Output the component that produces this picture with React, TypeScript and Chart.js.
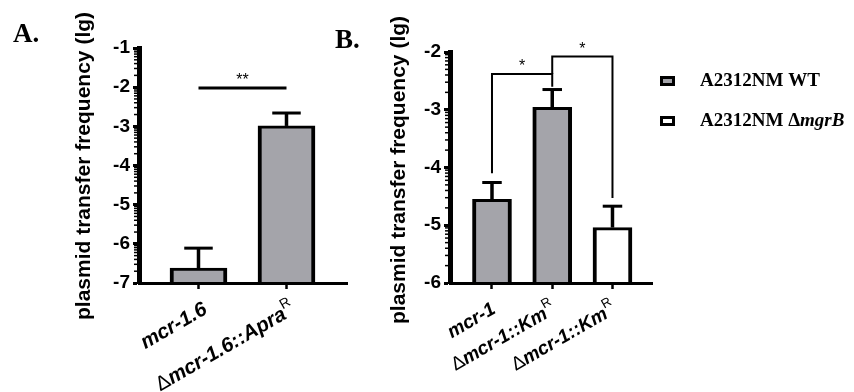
import React, { useEffect, useRef } from 'react';
import { Chart, registerables } from 'chart.js';

Chart.register(...registerables);

type Seg = { text: string; style: 'n' | 'b' | 'bi' | 'sup' };

const SANS = 'Arial, "Liberation Sans", Helvetica, sans-serif';
const SERIF = '"Times New Roman", "Liberation Serif", Times, serif';
const GRAY = '#a4a4aa';
const WHITE = '#ffffff';

// ---------- Panel A data ----------
const categoriesA = ['mcr-1.6', 'Δmcr-1.6::Apra^R'];
const xLabelsA: Seg[][] = [
  [{ text: 'mcr-1.6', style: 'bi' }],
  [{ text: 'Δ', style: 'n' }, { text: 'mcr-1.6::Apra', style: 'bi' }, { text: 'R', style: 'sup' }],
];
const valuesA: (number | null)[] = [-6.62, -2.99];
const errorsA: (number | null)[] = [0.51, 0.33];
const yTicksA = [-7, -6, -5, -4, -3, -2, -1];
const sigA = [{ from: 1, to: 2, y: -2.02, fromEnd: null as number | null, toEnd: null as number | null, label: '**' }];

// ---------- Panel B data ----------
const categoriesB = ['mcr-1', 'Δmcr-1::Km^R', 'Δmcr-1::Km^R'];
const xLabelsB: Seg[][] = [
  [{ text: 'mcr-1', style: 'bi' }],
  [{ text: 'Δ', style: 'n' }, { text: 'mcr-1::Km', style: 'bi' }, { text: 'R', style: 'sup' }],
  [{ text: 'Δ', style: 'n' }, { text: 'mcr-1::Km', style: 'bi' }, { text: 'R', style: 'sup' }],
];
const seriesNames = ['A2312NM WT', 'A2312NM ΔmgrB'];
const wtValuesB: (number | null)[] = [-4.55, -2.96, null];
const wtErrorsB: (number | null)[] = [0.29, 0.31, null];
const mgrbValuesB: (number | null)[] = [null, null, -5.04];
const mgrbErrorsB: (number | null)[] = [null, null, 0.37];
const yTicksB = [-6, -5, -4, -3, -2];
const sigB = [
  { from: 1, to: 2, y: -2.38, fromEnd: -4.1 as number | null, toEnd: -2.6 as number | null, label: '*' },
  { from: 2, to: 3, y: -2.08, fromEnd: -2.38 as number | null, toEnd: -4.53 as number | null, label: '*' },
];
const legendLabels: Seg[][] = [
  [{ text: 'A2312NM WT', style: 'b' }],
  [{ text: 'A2312NM Δ', style: 'b' }, { text: 'mgrB', style: 'bi' }],
];
const yTitle = 'plasmid transfer frequency (lg)';

type Series = { name: string; values: (number | null)[]; errors: (number | null)[]; color: string };
type Sig = { from: number; to: number; y: number; fromEnd: number | null; toEnd: number | null; label: string };
type Panel = {
  id: string;
  canvasLeft: number;
  canvasWidth: number;
  letter: string;
  letterX: number;
  letterY: number;
  yMin: number;
  yMax: number;
  yTicks: number[];
  xMin: number;
  xMax: number;
  categories: string[];
  xLabels: Seg[][];
  series: Series[];
  barWidth: number;
  area: { left: number; right: number; top: number; bottom: number };
  titleX: number;
  titleY: number;
  sigs: Sig[];
  sigWidth: number;
  labelDx: number;
  labelDy: number;
  labelSize: number;
  legend: boolean;
};

function fontFor(style: Seg['style'], size: number, family: string) {
  if (style === 'sup') return `${Math.round(size * 0.7)}px ${family}`;
  if (style === 'b') return `bold ${size}px ${family}`;
  if (style === 'bi') return `italic bold ${size}px ${family}`;
  return `${size}px ${family}`;
}

function drawSegs(
  ctx: CanvasRenderingContext2D,
  segs: Seg[],
  x: number,
  y: number,
  align: 'left' | 'right',
  size: number,
  family: string,
  baseline: CanvasTextBaseline,
  supRaise: number
) {
  ctx.textAlign = 'left';
  ctx.textBaseline = baseline;
  const widths = segs.map((s) => {
    ctx.font = fontFor(s.style, size, family);
    return ctx.measureText(s.text).width;
  });
  const total = widths.reduce((a, b) => a + b, 0);
  let cx = align === 'right' ? x - total : x;
  segs.forEach((s, i) => {
    ctx.font = fontFor(s.style, size, family);
    ctx.fillText(s.text, cx, s.style === 'sup' ? y - supRaise : y);
    cx += widths[i];
  });
}

function decorPlugin(p: Panel) {
  return {
    id: 'decor_' + p.id,
    afterDraw(chart: any) {
      const ctx = chart.ctx as CanvasRenderingContext2D;
      const xs = chart.scales.x;
      const ys = chart.scales.y;
      const area = chart.chartArea;
      const ox = p.canvasLeft;
      ctx.save();
      ctx.fillStyle = '#000';
      ctx.strokeStyle = '#000';

      // minor (log) ticks
      ctx.lineWidth = 1.5;
      for (let n = p.yMin; n < p.yMax; n++) {
        for (let k = 2; k <= 9; k++) {
          const py = ys.getPixelForValue(n + Math.log10(k));
          ctx.beginPath();
          ctx.moveTo(area.left - 5, py);
          ctx.lineTo(area.left, py);
          ctx.stroke();
        }
      }

      // error bars (upper only)
      p.series.forEach((s) => {
        s.values.forEach((v, i) => {
          const e = s.errors[i];
          if (v == null || e == null) return;
          const cx = xs.getPixelForValue(i + 1);
          const y0 = ys.getPixelForValue(v);
          const y1 = ys.getPixelForValue(v + e);
          const half = p.barWidth / 4;
          ctx.lineWidth = 3.5;
          ctx.beginPath();
          ctx.moveTo(cx, y0);
          ctx.lineTo(cx, y1);
          ctx.stroke();
          ctx.lineWidth = 3;
          ctx.beginPath();
          ctx.moveTo(cx - half, y1);
          ctx.lineTo(cx + half, y1);
          ctx.stroke();
        });
      });

      // significance lines / brackets
      ctx.lineWidth = p.sigWidth;
      ctx.lineJoin = 'miter';
      p.sigs.forEach((s) => {
        const x1 = xs.getPixelForValue(s.from);
        const x2 = xs.getPixelForValue(s.to);
        const py = ys.getPixelForValue(s.y);
        ctx.beginPath();
        if (s.fromEnd != null) {
          ctx.moveTo(x1, ys.getPixelForValue(s.fromEnd));
          ctx.lineTo(x1, py);
        } else {
          ctx.moveTo(x1, py);
        }
        ctx.lineTo(x2, py);
        if (s.toEnd != null) ctx.lineTo(x2, ys.getPixelForValue(s.toEnd));
        ctx.stroke();
        ctx.font = `16px ${SANS}`;
        ctx.textAlign = 'center';
        ctx.textBaseline = 'alphabetic';
        ctx.fillText(s.label, (x1 + x2) / 2, py - 3);
      });

      // x labels (rotated, mixed styles)
      const ang = (30 * Math.PI) / 180;
      p.xLabels.forEach((segs, i) => {
        const cx = xs.getPixelForValue(i + 1) + p.labelDx;
        const cy = area.bottom + p.labelDy;
        ctx.save();
        ctx.translate(cx, cy);
        ctx.rotate(-ang);
        drawSegs(ctx, segs, 0, 0, 'right', p.labelSize, SANS, 'middle', 8);
        ctx.restore();
      });

      // y title
      ctx.save();
      ctx.translate(p.titleX - ox, p.titleY);
      ctx.rotate(-Math.PI / 2);
      ctx.font = `bold 21px ${SANS}`;
      ctx.textAlign = 'center';
      ctx.textBaseline = 'middle';
      ctx.fillText(yTitle, 0, 0);
      ctx.restore();

      // panel letter
      ctx.font = `bold 27px ${SERIF}`;
      ctx.textAlign = 'left';
      ctx.textBaseline = 'alphabetic';
      ctx.fillText(p.letter, p.letterX - ox, p.letterY);

      // legend
      if (p.legend) {
        p.series.forEach((s, i) => {
          const bx = 660 - ox;
          const by = 76 + i * 40;
          ctx.fillStyle = s.color;
          ctx.fillRect(bx + 3, by + 3, 9, 4);
          ctx.strokeStyle = '#000';
          ctx.lineWidth = 3;
          ctx.strokeRect(bx + 1.5, by + 1.5, 12, 7);
          ctx.fillStyle = '#000';
          drawSegs(ctx, legendLabels[i], 700 - ox, by + 9.5, 'left', 19, SERIF, 'alphabetic', 0);
        });
      }
      ctx.restore();
    },
  };
}

function makeConfig(p: Panel): any {
  return {
    type: 'bar',
    data: {
      labels: p.categories,
      datasets: p.series.map((s) => ({
        label: s.name,
        data: s.values.map((v, i) => ({ x: i + 1, y: v })),
        backgroundColor: s.color,
        borderColor: '#000',
        borderWidth: { top: 3, left: 4, right: 4, bottom: 0 },
        barThickness: p.barWidth,
        base: p.yMin,
        skipNull: true,
      })),
    },
    options: {
      responsive: false,
      animation: false,
      events: [],
      layout: {
        padding: { top: p.area.top, right: p.canvasWidth - (p.area.right - p.canvasLeft), bottom: 0, left: 0 },
      },
      plugins: { legend: { display: false }, tooltip: { enabled: false }, title: { display: false } },
      scales: {
        x: {
          type: 'linear',
          min: p.xMin,
          max: p.xMax,
          offset: false,
          afterBuildTicks: (s: any) => {
            s.ticks = p.categories.map((_, i) => ({ value: i + 1 }));
          },
          afterFit: (s: any) => {
            s.height = 392 - p.area.bottom;
          },
          ticks: { display: false },
          grid: {
            offset: false,
            drawOnChartArea: false,
            drawTicks: true,
            tickLength: 6,
            tickWidth: 2.5,
            tickColor: '#000',
            color: '#000',
          },
          border: { display: true, color: '#000', width: 3, z: 1 },
        },
        y: {
          type: 'linear',
          min: p.yMin,
          max: p.yMax,
          beginAtZero: false,
          afterBuildTicks: (s: any) => {
            s.ticks = p.yTicks.map((v) => ({ value: v }));
          },
          afterFit: (s: any) => {
            s.width = p.area.left - p.canvasLeft;
          },
          ticks: {
            color: '#000',
            padding: 3,
            font: { family: 'Arial, "Liberation Sans", sans-serif', size: 19, weight: 'bold' },
            callback: (v: any) => String(v),
          },
          grid: {
            drawOnChartArea: false,
            drawTicks: true,
            tickLength: 6,
            tickWidth: 3,
            tickColor: '#000',
            color: '#000',
          },
          border: { display: true, color: '#000', width: 5, z: 1 },
        },
      },
    },
    plugins: [decorPlugin(p)],
  };
}

const panelA: Panel = {
  id: 'A',
  canvasLeft: 0,
  canvasWidth: 360,
  letter: 'A.',
  letterX: 13,
  letterY: 42,
  yMin: -7,
  yMax: -1,
  yTicks: yTicksA,
  xMin: 0.324,
  xMax: 2.6875,
  categories: categoriesA,
  xLabels: xLabelsA,
  series: [{ name: seriesNames[0], values: valuesA, errors: errorsA, color: GRAY }],
  barWidth: 57,
  area: { left: 139, right: 347, top: 48, bottom: 283 },
  titleX: 84,
  titleY: 166,
  sigs: sigA,
  sigWidth: 3,
  labelDx: 7,
  labelDy: 25,
  labelSize: 20.5,
  legend: false,
};

const panelB: Panel = {
  id: 'B',
  canvasLeft: 320,
  canvasWidth: 534,
  letter: 'B.',
  letterX: 335,
  letterY: 48,
  yMin: -6,
  yMax: -2,
  yTicks: yTicksB,
  xMin: 0.303,
  xMax: 3.656,
  categories: categoriesB,
  xLabels: xLabelsB,
  series: [
    { name: seriesNames[0], values: wtValuesB, errors: wtErrorsB, color: GRAY },
    { name: seriesNames[1], values: mgrbValuesB, errors: mgrbErrorsB, color: WHITE },
  ],
  barWidth: 39,
  area: { left: 450, right: 652, top: 52, bottom: 283 },
  titleX: 399,
  titleY: 170,
  sigs: sigB,
  sigWidth: 2,
  labelDx: 2,
  labelDy: 25,
  labelSize: 19,
  legend: true,
};

export default function App() {
  const refA = useRef<HTMLCanvasElement>(null);
  const refB = useRef<HTMLCanvasElement>(null);
  useEffect(() => {
    const a = new Chart(refA.current as HTMLCanvasElement, makeConfig(panelA));
    const b = new Chart(refB.current as HTMLCanvasElement, makeConfig(panelB));
    return () => {
      a.destroy();
      b.destroy();
    };
  }, []);
  return (
    <div style={{ position: 'fixed', left: 0, top: 0, width: 854, height: 392, background: '#fff', overflow: 'hidden' }}>
      <canvas
        ref={refA}
        width={360}
        height={392}
        style={{ position: 'absolute', left: 0, top: 0, width: 360, height: 392 }}
      />
      <canvas
        ref={refB}
        width={534}
        height={392}
        style={{ position: 'absolute', left: 320, top: 0, width: 534, height: 392 }}
      />
    </div>
  );
}
